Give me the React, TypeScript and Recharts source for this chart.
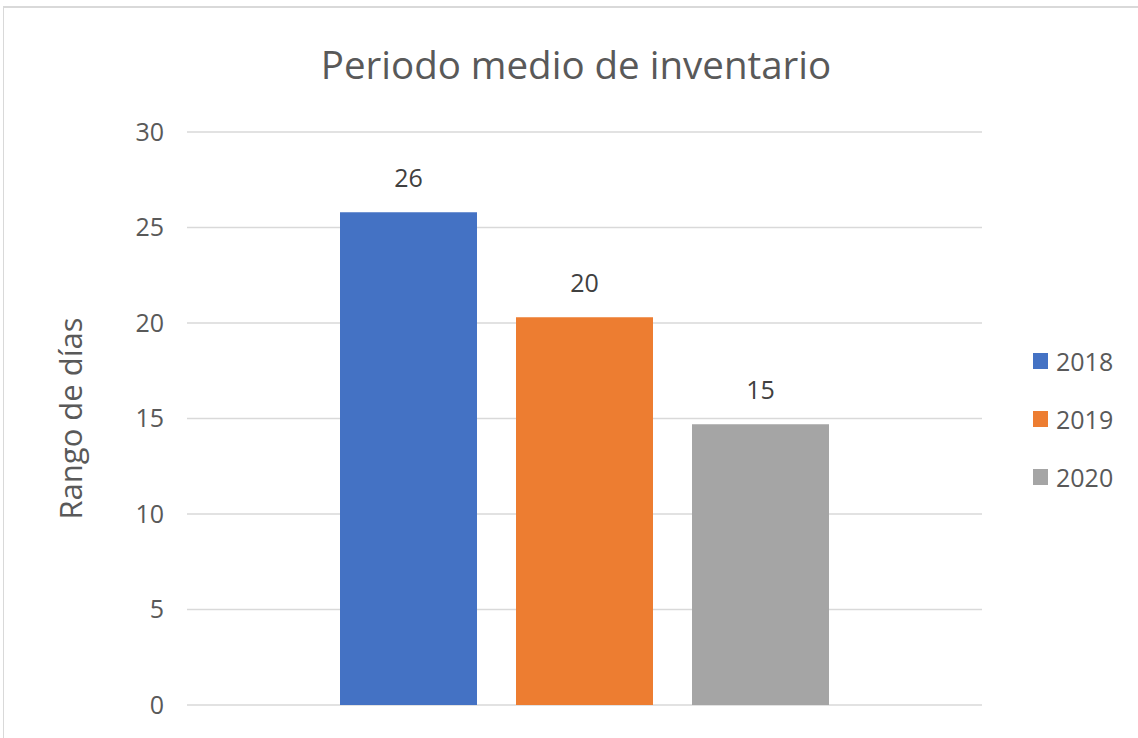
import { BarChart, Bar, XAxis, YAxis, CartesianGrid, Legend, LabelList } from "recharts";

const years = ["2018", "2019", "2020"];
const days = [25.8, 20.3, 14.7];
const colors = ["#4472C4", "#ED7D31", "#A5A5A5"];
const yTicks = [0, 5, 10, 15, 20, 25, 30];

const row: Record<string, string | number> = { name: "Periodo" };
years.forEach((y, i) => {
  row[y] = days[i];
});
const data = [row];

const FONT = "'Open Sans', sans-serif";
const TEXT = "#595959";

// vertical axis title, centred on the plot height
const AxisTitle = (props: any) => {
  const { viewBox } = props;
  const cx = 70;
  const cy = viewBox.y + viewBox.height / 2;
  return (
    <text
      x={cx}
      y={cy}
      transform={`rotate(-90, ${cx}, ${cy})`}
      textAnchor="middle"
      dominantBaseline="central"
      fill={TEXT}
      fontSize={31}
      fontFamily={FONT}
    >
      Rango de días
    </text>
  );
};

const SideLegend = () => (
  <div style={{ fontFamily: FONT, fontSize: 25, color: TEXT }}>
    {years.map((y, i) => (
      <div key={y} style={{ display: "flex", alignItems: "center", height: 58 }}>
        <span style={{ width: 15, height: 16, background: colors[i], marginRight: 8, display: "inline-block" }} />
        <span>{y}</span>
      </div>
    ))}
  </div>
);

export default function App() {
  return (
    <div style={{ position: "absolute", left: 0, top: 0, width: 1138, height: 738, background: "#fff" }}>
      <div
        style={{
          position: "absolute",
          left: 3,
          top: 6,
          width: 1140,
          height: 740,
          borderTop: "2px solid #d9d9d9",
          borderLeft: "1px solid #d9d9d9",
        }}
      />
      <div
        style={{
          position: "absolute",
          left: 0,
          width: 1152,
          top: 39,
          textAlign: "center",
          fontFamily: FONT,
          fontSize: 38.5,
          color: TEXT,
          lineHeight: "50px",
        }}
      >
        Periodo medio de inventario
      </div>
      <BarChart
        width={1138}
        height={738}
        data={data}
        margin={{ top: 132, right: 56, bottom: 33, left: 40 }}
        barSize={137}
        barGap={39}
        style={{ position: "absolute", left: 0, top: 0 }}
      >
        <CartesianGrid horizontal vertical={false} stroke="#d9d9d9" strokeWidth={1.5} />
        <XAxis dataKey="name" hide />
        <YAxis
          width={147}
          domain={[0, 30]}
          ticks={yTicks}
          axisLine={false}
          tickLine={false}
          tickMargin={17}
          tick={{ fill: TEXT, fontSize: 25, fontFamily: FONT }}
          label={{ content: <AxisTitle /> }}
        />
        <Legend
          layout="vertical"
          align="right"
          verticalAlign="top"
          content={<SideLegend />}
          wrapperStyle={{ left: 1033, top: 332, width: 100 }}
        />
        {years.map((y, i) => (
          <Bar key={y} dataKey={y} fill={colors[i]} isAnimationActive={false}>
            <LabelList
              dataKey={y}
              position="top"
              offset={25}
              formatter={(v: any) => Math.round(Number(v)).toString()}
              fill="#404040"
              fontSize={25}
              fontFamily={FONT}
            />
          </Bar>
        ))}
      </BarChart>
    </div>
  );
}
